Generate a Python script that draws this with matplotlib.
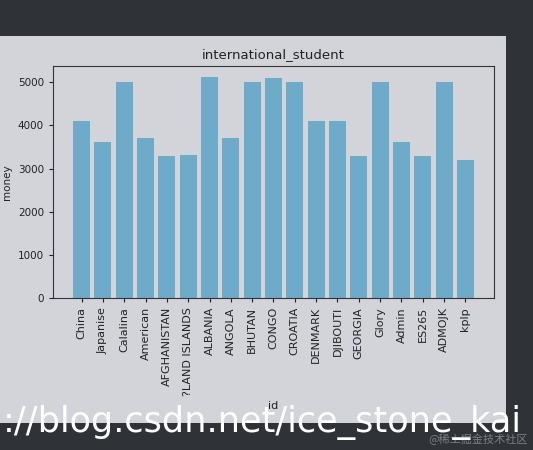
import matplotlib.pyplot as plt
from matplotlib.patches import Rectangle

names = ["China", "Japanise", "Calalina", "American", "AFGHANISTAN", "?LAND ISLANDS",
         "ALBANIA", "ANGOLA", "BHUTAN", "CONGO", "CROATIA", "DENMARK", "DJIBOUTI",
         "GEORGIA", "Glory", "Admin", "ES265", "ADMOJK", "kplp"]
money = [4100, 3620, 5000, 3700, 3300, 3320, 5120, 3700, 5000, 5100, 5000, 4100, 4100,
         3300, 5000, 3620, 3300, 5000, 3200]

fig = plt.figure(figsize=(5.33, 4.5), dpi=100)
fig.patch.set_facecolor("#2f3237")

# light panel where the original figure sat
fig.patches.append(Rectangle((0, 1 - 423 / 450), 506 / 533, (423 - 36) / 450,
                             transform=fig.transFigure, facecolor="#d3d4d9",
                             edgecolor="none", zorder=-1))

ax = fig.add_axes([53 / 533, 1 - 298 / 450, (494 - 53) / 533, (298 - 66) / 450])
ax.set_zorder(2)
ax.set_facecolor("none")
ax.bar(names, money, color="#6eabc9")
ax.set_title("international_student", fontsize=9.5, color="#222222")
ax.set_xlabel("id", fontsize=8, color="#222222")
ax.set_ylabel("money", fontsize=7.5, color="#222222")
ax.tick_params(axis="both", colors="#222222", length=3)
ax.tick_params(axis="x", labelsize=8)
ax.tick_params(axis="y", labelsize=7.5)
plt.setp(ax.get_xticklabels(), rotation=90)
for s in ax.spines.values():
    s.set_color("#333333")
    s.set_linewidth(0.8)

# watermarks
wm = fig.text(3 / 533, 1 - 432 / 450, "://blog.csdn.net/ice_stone_kai", color="white",
              fontsize=24, family="DejaVu Sans", ha="left", va="baseline", zorder=5)
# stretch the font size so the watermark spans the same width as in the screenshot
r = fig.canvas.get_renderer()
w = wm.get_window_extent(r).width
wm.set_fontsize(24 * 521 / w)
fig.text(0.99, 1 - 443 / 450, "@稀土掘金技术社区", color="#7d8085", fontsize=8,
         family=["Noto Sans CJK SC", "DejaVu Sans"], ha="right", va="baseline", zorder=4)

fig.savefig("out.png", dpi=100, facecolor=fig.get_facecolor())
